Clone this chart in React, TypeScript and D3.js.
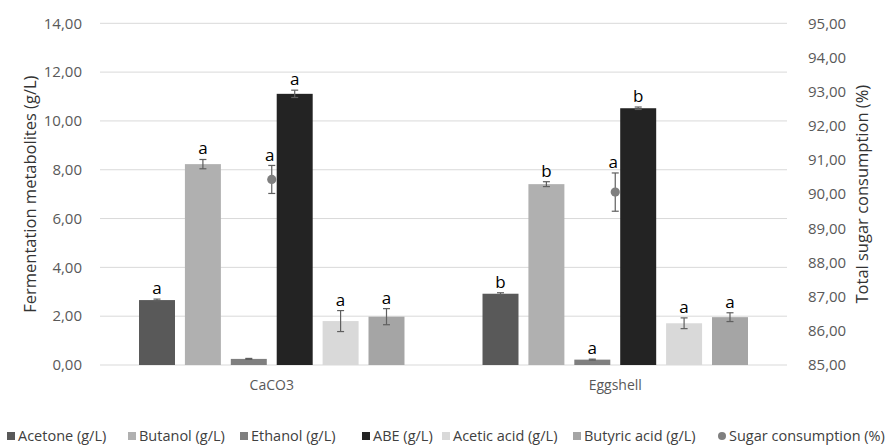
import React from 'react';
import * as d3 from 'd3';

const categories = ['CaCO3', 'Eggshell'];
const seriesNames = ['Acetone (g/L)', 'Butanol (g/L)', 'Ethanol (g/L)', 'ABE (g/L)', 'Acetic acid (g/L)', 'Butyric acid (g/L)'];
const seriesColors = ['#595959', '#b0b0b0', '#7f7f7f', '#232323', '#d9d9d9', '#a5a5a5'];

const acetone = [2.66, 2.92];
const acetoneErr = [0.04, 0.04];
const acetoneLetters = ['a', 'b'];
const butanol = [8.23, 7.41];
const butanolErr = [0.19, 0.1];
const butanolLetters = ['a', 'b'];
const ethanol = [0.25, 0.22];
const ethanolErr = [0.02, 0.02];
const ethanolLetters = ['', 'a'];
const abe = [11.11, 10.52];
const abeErr = [0.15, 0.05];
const abeLetters = ['a', 'b'];
const aceticAcid = [1.8, 1.71];
const aceticAcidErr = [0.43, 0.22];
const aceticAcidLetters = ['a', 'a'];
const butyricAcid = [1.98, 1.96];
const butyricAcidErr = [0.33, 0.18];
const butyricAcidLetters = ['a', 'a'];

const sugarName = 'Sugar consumption (%)';
const sugar = [90.43, 90.06];
const sugarErr = [0.41, 0.56];
const sugarLetters = ['a', 'a'];

const leftTicks = [0, 2, 4, 6, 8, 10, 12, 14];
const rightTicks = [85, 86, 87, 88, 89, 90, 91, 92, 93, 94, 95];

const seriesValues = [acetone, butanol, ethanol, abe, aceticAcid, butyricAcid];
const seriesErrs = [acetoneErr, butanolErr, ethanolErr, abeErr, aceticAcidErr, butyricAcidErr];
const seriesLetters = [acetoneLetters, butanolLetters, ethanolLetters, abeLetters, aceticAcidLetters, butyricAcidLetters];

const W = 887, H = 445;
const M = { left: 100, right: 787, top: 23.3, bottom: 365 };
const FONT = "'Open Sans', sans-serif";
const fmt = (v: number) => d3.format('.2f')(v).replace('.', ',');

const legendX = [7, 128, 240, 362, 442, 573, 718];

export default function App() {
  const x0 = d3.scaleBand<string>().domain(categories).range([M.left, M.right]);
  const x1 = d3.scaleBand<string>().domain(seriesNames).range([0, x0.bandwidth()]).paddingInner(0.216).paddingOuter(0.85);
  const yL = d3.scaleLinear().domain([0, 14]).range([M.bottom, M.top]);
  const yR = d3.scaleLinear().domain([85, 95]).range([M.bottom, M.top]);
  const errColor = '#5f5f5f';
  const cap = 3.5;

  return (
    <svg width={W} height={H} style={{ position: 'absolute', left: 0, top: 0, background: '#fff' }} fontFamily={FONT}>
      {leftTicks.map((t) => (
        <line key={'g' + t} x1={M.left} x2={M.right} y1={yL(t)} y2={yL(t)} stroke="#d9d9d9" strokeWidth={1} />
      ))}
      {leftTicks.map((t) => (
        <text key={'l' + t} x={82} y={yL(t)} dy="0.35em" textAnchor="end" fontSize={15} fill="#595959">{fmt(t)}</text>
      ))}
      {rightTicks.map((t) => (
        <text key={'r' + t} x={808} y={yR(t)} dy="0.35em" textAnchor="start" fontSize={15} fill="#595959">{fmt(t)}</text>
      ))}
      <text transform={`translate(30,${(M.top + M.bottom) / 2}) rotate(-90)`} textAnchor="middle" dy="0.35em" fontSize={16.5} fill="#333">Fermentation metabolites (g/L)</text>
      <text transform={`translate(862,${(M.top + M.bottom) / 2}) rotate(-90)`} textAnchor="middle" dy="0.35em" fontSize={16.5} fill="#333">Total sugar consumption (%)</text>

      {categories.map((c, ci) => (
        <g key={c}>
          {seriesNames.map((s, si) => {
            const v = seriesValues[si][ci];
            const e = seriesErrs[si][ci];
            const bx = (x0(c) as number) + (x1(s) as number);
            const bw = x1.bandwidth();
            const cx = bx + bw / 2;
            const letter = seriesLetters[si][ci];
            return (
              <g key={s}>
                <rect x={bx} y={yL(v)} width={bw} height={yL(0) - yL(v)} fill={seriesColors[si]} />
                <line x1={cx} x2={cx} y1={yL(v - e)} y2={yL(v + e)} stroke={errColor} strokeWidth={1.2} />
                <line x1={cx - cap} x2={cx + cap} y1={yL(v + e)} y2={yL(v + e)} stroke={errColor} strokeWidth={1.2} />
                <line x1={cx - cap} x2={cx + cap} y1={yL(v - e)} y2={yL(v - e)} stroke={errColor} strokeWidth={1.2} />
                {letter && (
                  <text x={cx} y={yL(v + e) - 5} textAnchor="middle" fontSize={17} fill="#000">{letter}</text>
                )}
              </g>
            );
          })}
          {(() => {
            const cx = (x0(c) as number) + x0.bandwidth() / 2;
            const v = sugar[ci];
            const e = sugarErr[ci];
            return (
              <g>
                <line x1={cx} x2={cx} y1={yR(v - e)} y2={yR(v + e)} stroke={errColor} strokeWidth={1.2} />
                <line x1={cx - cap} x2={cx + cap} y1={yR(v + e)} y2={yR(v + e)} stroke={errColor} strokeWidth={1.2} />
                <line x1={cx - cap} x2={cx + cap} y1={yR(v - e)} y2={yR(v - e)} stroke={errColor} strokeWidth={1.2} />
                <circle cx={cx} cy={yR(v)} r={4.6} fill="#7f7f7f" />
                <text x={cx - 2} y={yR(v + e) - 4.5} textAnchor="middle" fontSize={17} fill="#000">{sugarLetters[ci]}</text>
              </g>
            );
          })()}
          <text x={(x0(c) as number) + x0.bandwidth() / 2} y={385} dy="0.35em" textAnchor="middle" fontSize={14} fill="#595959">{c}</text>
        </g>
      ))}

      {seriesNames.map((s, si) => (
        <g key={'lg' + s}>
          <rect x={legendX[si]} y={432} width={8} height={8} fill={seriesColors[si]} />
          <text x={legendX[si] + 11} y={441} fontSize={14.5} fill="#404040">{s}</text>
        </g>
      ))}
      <circle cx={legendX[6] + 4} cy={436} r={4} fill="#7f7f7f" />
      <text x={legendX[6] + 11} y={441} fontSize={14.5} fill="#404040">{sugarName}</text>
    </svg>
  );
}
